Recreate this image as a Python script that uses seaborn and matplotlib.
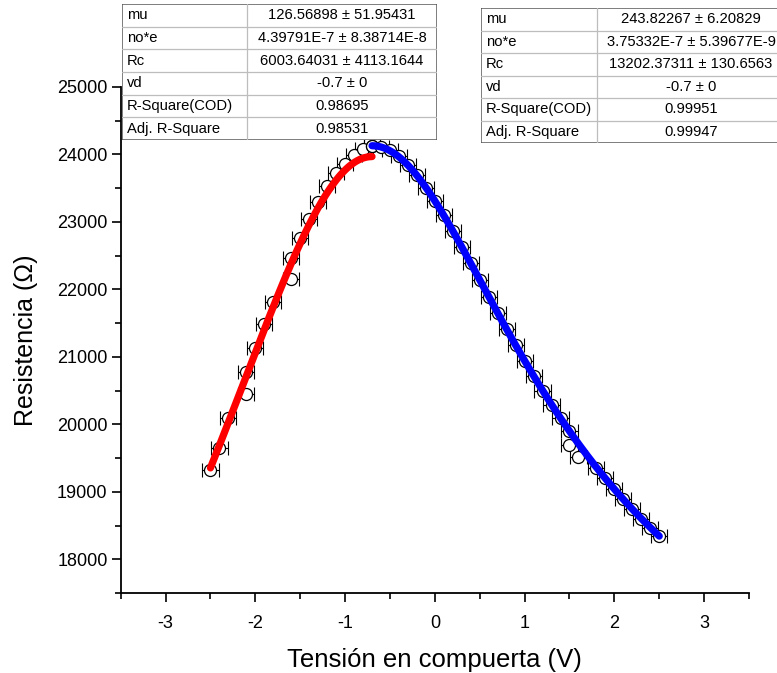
import numpy as np
import pandas as pd
import matplotlib
matplotlib.use("Agg")
import matplotlib.pyplot as plt
import seaborn as sns
from matplotlib.ticker import MultipleLocator
from matplotlib.patches import Rectangle

# ---- measured resistance vs gate voltage ----
vg_left = [-2.5, -2.4, -2.3, -2.1, -2.1, -2.0, -1.9, -1.8, -1.6, -1.6,
           -1.5, -1.4, -1.3, -1.2, -1.1, -1.0, -0.9, -0.8, -0.7]
r_left = [19330, 19650, 20090, 20450, 20770, 21130, 21480, 21820, 22160, 22460,
          22760, 23050, 23290, 23530, 23720, 23860, 23990, 24080, 24130]

vg_right = [-0.7, -0.6, -0.5, -0.4, -0.3, -0.2, -0.1, 0.0, 0.1, 0.2,
            0.3, 0.4, 0.5, 0.6, 0.7, 0.8, 0.9, 1.0, 1.1, 1.2,
            1.3, 1.4, 1.5, 1.5, 1.6, 1.8, 1.9, 2.0, 2.1, 2.2,
            2.3, 2.4, 2.5]
r_right = [24130, 24110, 24060, 23970, 23840, 23690, 23510, 23310, 23100, 22870,
           22630, 22390, 22140, 21890, 21650, 21410, 21170, 20940, 20720, 20500,
           20290, 20090, 19900, 19700, 19520, 19360, 19200, 19040, 18890, 18740,
           18600, 18470, 18340]

vg_err = 0.09  # V

# ---- fit parameters (hole and electron branches) ----
fit_left = {"mu": 126.56898, "n0e": 4.39791e-7, "rc": 6003.64031, "vd": -0.7}
fit_right = {"mu": 243.82267, "n0e": 3.75332e-7, "rc": 13202.37311, "vd": -0.7}
c_gate = 2.2e-7  # gate capacitance per unit area (F/cm^2)

row_names = ["mu", "no*e", "Rc", "vd", "R-Square(COD)", "Adj. R-Square"]
left_values = ["126.56898 \u00b1 51.95431", "4.39791E-7 \u00b1 8.38714E-8",
               "6003.64031 \u00b1 4113.1644", "-0.7 \u00b1 0", "0.98695", "0.98531"]
right_values = ["243.82267 \u00b1 6.20829", "3.75332E-7 \u00b1 5.39677E-9",
                "13202.37311 \u00b1 130.6563", "-0.7 \u00b1 0", "0.99951", "0.99947"]

x_ticks = [-3, -2, -1, 0, 1, 2, 3]
y_ticks = [18000, 19000, 20000, 21000, 22000, 23000, 24000, 25000]


def model(vg, p):
    n = np.sqrt(p["n0e"] ** 2 + (c_gate * (vg - p["vd"])) ** 2)
    return p["rc"] + 1.0 / (p["mu"] * n)


sns.set_theme(style="ticks")
plt.rcParams["font.family"] = ["Liberation Sans", "DejaVu Sans"]
plt.rcParams["axes.unicode_minus"] = False

W, H = 777, 673
fig = plt.figure(figsize=(W / 100, H / 100), dpi=100)
fig.patch.set_facecolor("white")

ax_l, ax_r, ax_t, ax_b = 120.7, 749.0, 87.0, 593.0
ax = fig.add_axes([ax_l / W, 1 - ax_b / H, (ax_r - ax_l) / W, (ax_b - ax_t) / H])
ax.set_facecolor("white")

df_left = pd.DataFrame({"Vg": vg_left, "R": r_left})
df_right = pd.DataFrame({"Vg": vg_right, "R": r_right})

for df in (df_left, df_right):
    ax.errorbar(df["Vg"], df["R"], xerr=vg_err, fmt="none", ecolor="black",
                elinewidth=0.8, capsize=5, capthick=0.8, zorder=2)
    sns.scatterplot(data=df, x="Vg", y="R", ax=ax, marker="o", s=75,
                    facecolor="white", edgecolor="black", linewidth=0.9,
                    zorder=3, legend=False)

v_fit_left = np.linspace(min(vg_left), fit_left["vd"], 200)
v_fit_right = np.linspace(fit_right["vd"], max(vg_right), 300)
sns.lineplot(x=v_fit_left, y=model(v_fit_left, fit_left), ax=ax, color="#ff0000",
             linewidth=5.2, zorder=4, solid_capstyle="round", sort=False)
sns.lineplot(x=v_fit_right, y=model(v_fit_right, fit_right), ax=ax, color="#0000ff",
             linewidth=5.2, zorder=4, solid_capstyle="round", sort=False)

ax.set_xlim(-3.5, 3.5)
ax.set_ylim(17500, 25000)
ax.set_xticks(x_ticks)
ax.set_yticks(y_ticks)
ax.xaxis.set_minor_locator(MultipleLocator(0.5))
ax.yaxis.set_minor_locator(MultipleLocator(500))
ax.tick_params(axis="both", which="major", direction="out", length=6.5, width=1.2,
               labelsize=13, colors="black")
ax.tick_params(axis="both", which="minor", direction="out", length=4, width=1.2,
               colors="black")
ax.tick_params(axis="x", which="major", pad=9)
ax.tick_params(axis="y", which="major", pad=3)
for s in ("top", "right"):
    ax.spines[s].set_visible(False)
for s in ("left", "bottom"):
    ax.spines[s].set_linewidth(1.3)
    ax.spines[s].set_color("black")
ax.grid(False)

ax.set_xlabel("Tensi\u00f3n en compuerta (V)", fontsize=18.5, labelpad=12, color="black")
ax.set_ylabel("Resistencia (\u03a9)", fontsize=18, labelpad=14, color="black")


def draw_table(x0, y0, x1, y1, split, values):
    tab = fig.add_axes([x0 / W, 1 - y1 / H, (x1 - x0) / W, (y1 - y0) / H])
    tab.set_xlim(0, x1 - x0)
    tab.set_ylim(y1 - y0, 0)
    tab.axis("off")
    w, h = x1 - x0, y1 - y0
    tab.add_patch(Rectangle((0, 0), w, h, facecolor="white", edgecolor="none"))
    rh = h / len(row_names)
    for i in range(1, len(row_names)):
        tab.plot([0, w], [i * rh, i * rh], color="#bdbdbd", lw=0.9)
    tab.plot([split, split], [0, h], color="#bdbdbd", lw=0.9)
    tab.add_patch(Rectangle((0, 0), w, h, facecolor="none", edgecolor="#5a5a5a", lw=1.1))
    for i, (name, val) in enumerate(zip(row_names, values)):
        yc = (i + 0.5) * rh
        tab.text(5, yc, name, ha="left", va="center", fontsize=10.6, color="black")
        tab.text((split + w) / 2, yc, val, ha="center", va="center", fontsize=10.6,
                 color="black")


draw_table(122, 4, 437, 140, 125, left_values)
draw_table(481, 8, 785, 143, 116, right_values)

fig.savefig("out.png", dpi=100, facecolor="white")
